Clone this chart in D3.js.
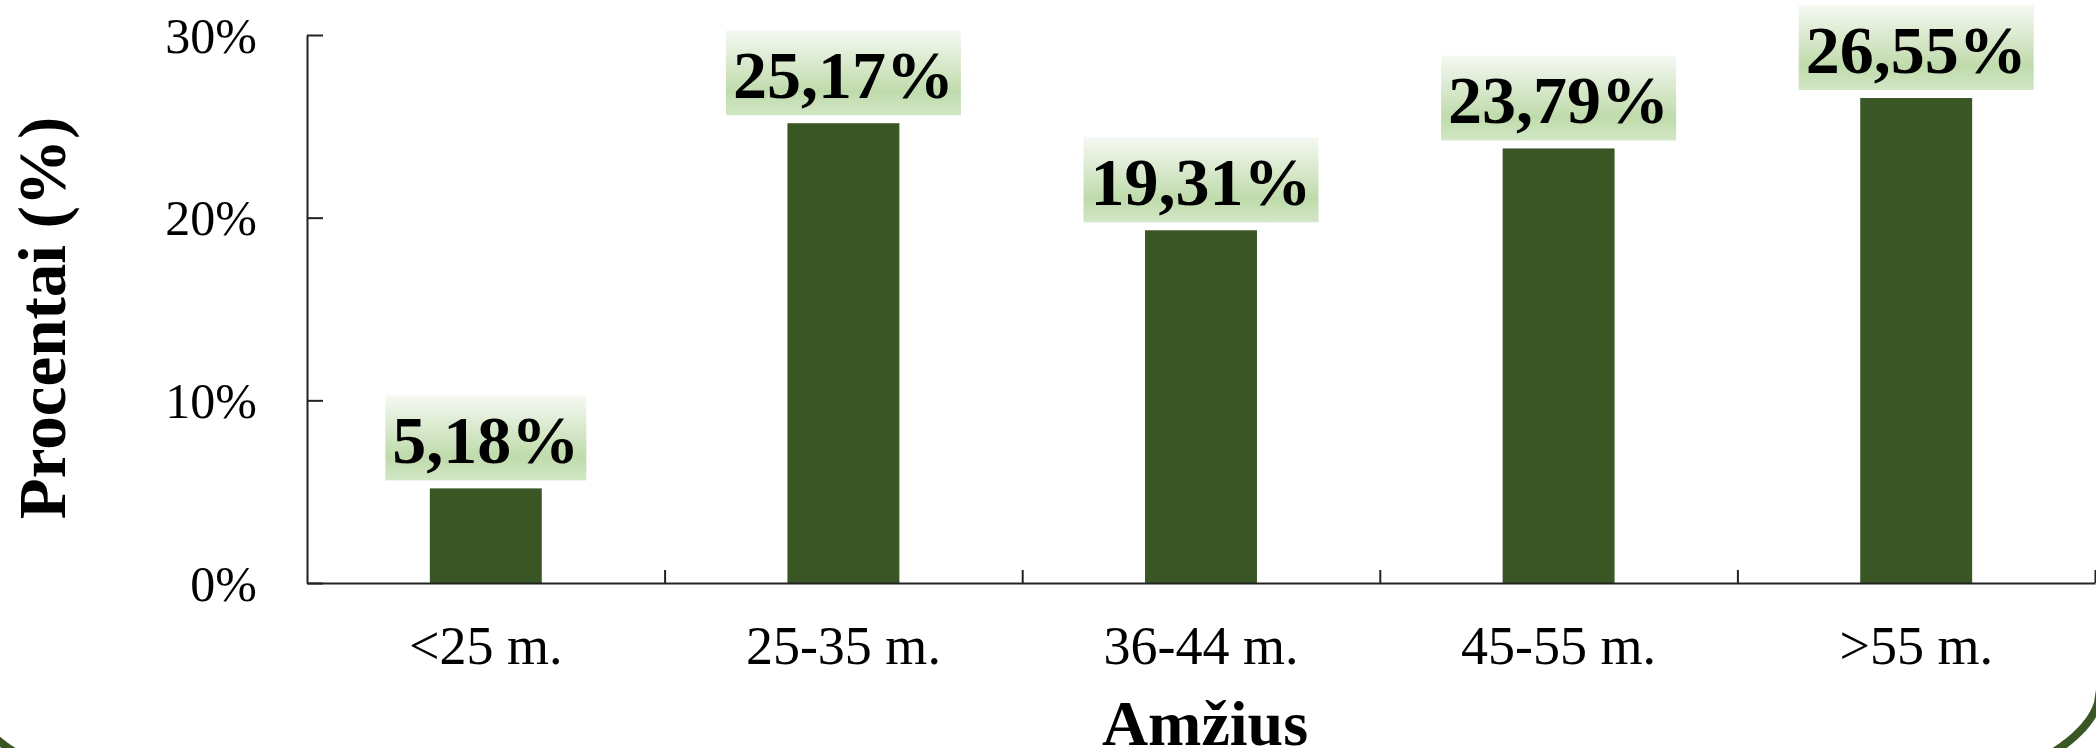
<!DOCTYPE html>
<html>
<head>
<meta charset="utf-8">
<script src="https://cdn.jsdelivr.net/npm/d3@7"></script>
<style>
  html, body { margin: 0; padding: 0; background: #ffffff; }
  svg { display: block; }
</style>
</head>
<body>
<script>
// ---- data ----
const categories = ["<25 m.", "25-35 m.", "36-44 m.", "45-55 m.", ">55 m."];
const values = [5.18, 25.17, 19.31, 23.79, 26.55];
const valueLabels = ["5,18%", "25,17%", "19,31%", "23,79%", "26,55%"];
const yTicks = [0, 10, 20, 30];
const yTickLabels = ["0%", "10%", "20%", "30%"];
const xTitle = "Amžius";
const yTitle = "Procentai (%)";

// ---- layout ----
const W = 2096, H = 748;
const serif = "'Liberation Serif', 'Times New Roman', Times, serif";
const barColor = "#3a5624";

const svg = d3.select("body").append("svg")
  .attr("width", W).attr("height", H)
  .attr("viewBox", `0 0 ${W} ${H}`);

const defs = svg.append("defs");
const grad = defs.append("linearGradient")
  .attr("id", "lblGrad").attr("x1", 0).attr("y1", 0).attr("x2", 0).attr("y2", 1);
grad.append("stop").attr("offset", "0%").attr("stop-color", "#f6f9f3");
grad.append("stop").attr("offset", "72%").attr("stop-color", "#bfdbab");
grad.append("stop").attr("offset", "100%").attr("stop-color", "#d2e7c6");

// decorative slide frame arc (lower half of a wide ellipse), computed as points
const ell = { cx: 1034, cy: 690, rx: 1066, ry: 213 };
const arcPts = d3.range(-1, 1.00001, 0.002).map(u => {
  const px = ell.cx + ell.rx * u;
  const py = ell.cy + ell.ry * Math.sqrt(Math.max(0, 1 - u * u));
  return [px, py];
});
svg.append("path")
  .attr("d", d3.line()(arcPts))
  .attr("fill", "none")
  .attr("stroke", barColor)
  .attr("stroke-width", 8);

const x0 = 307, x1 = 2095, y0 = 583, y1 = 35;

const x = d3.scaleBand().domain(categories).range([x0, x1]).padding(0);
const y = d3.scaleLinear().domain([0, 30]).range([y0, y1]);
const barW = x.bandwidth() * 0.313;

// bars
svg.append("g").selectAll("rect")
  .data(values)
  .join("rect")
  .attr("x", (d, i) => x(categories[i]) + x.bandwidth() / 2 - barW / 2)
  .attr("y", d => y(d))
  .attr("width", barW)
  .attr("height", d => y0 - y(d))
  .attr("fill", barColor);

// y axis
const yAxis = d3.axisLeft(y)
  .tickValues(yTicks)
  .tickFormat((d, i) => yTickLabels[i])
  .tickSizeInner(-16)
  .tickSizeOuter(0)
  .tickPadding(50);
const gy = svg.append("g").attr("transform", `translate(${x0},0)`).call(yAxis);
gy.select(".domain").attr("stroke", "#222").attr("stroke-width", 2);
gy.selectAll(".tick line").attr("stroke", "#222").attr("stroke-width", 2);
gy.selectAll(".tick text")
  .attr("font-family", serif).attr("font-size", 50).attr("fill", "#000")
  .attr("dy", "0.34em");

// x axis (ticks at category boundaries, pointing up)
const xBound = d3.scaleLinear().domain([0, categories.length]).range([x0, x1]);
const gx = svg.append("g").attr("transform", `translate(0,${y0})`);
gx.call(d3.axisBottom(xBound).tickValues(d3.range(1, categories.length + 1))
  .tickFormat("").tickSizeInner(-13).tickSizeOuter(0));
gx.select(".domain").attr("stroke", "#222").attr("stroke-width", 2);
gx.selectAll(".tick line").attr("stroke", "#222").attr("stroke-width", 2);

// x category labels
svg.append("g").selectAll("text")
  .data(categories)
  .join("text")
  .attr("x", d => x(d) + x.bandwidth() / 2)
  .attr("y", 664)
  .attr("text-anchor", "middle")
  .attr("font-family", serif)
  .attr("font-size", 54)
  .attr("fill", "#000")
  .text(d => d);

// value labels with gradient boxes
const lg = svg.append("g");
values.forEach((v, i) => {
  const cx = x(categories[i]) + x.bandwidth() / 2;
  const boxBottom = y(v) - 8;
  const boxH = 85;
  const g = lg.append("g");
  const rect = g.append("rect").attr("fill", "url(#lblGrad)");
  const t = g.append("text")
    .attr("x", cx)
    .attr("y", boxBottom - 17)
    .attr("text-anchor", "middle")
    .attr("font-family", serif)
    .attr("font-weight", "bold")
    .attr("font-size", 68)
    .attr("fill", "#000")
    .text(valueLabels[i]);
  const tw = t.node().getComputedTextLength();
  const bw = tw + 14;
  rect.attr("x", cx - bw / 2).attr("y", boxBottom - boxH)
      .attr("width", bw).attr("height", boxH);
});

// axis titles
svg.append("text")
  .attr("x", 1205).attr("y", 745)
  .attr("text-anchor", "middle")
  .attr("font-family", serif).attr("font-weight", "bold").attr("font-size", 64)
  .attr("fill", "#000")
  .text(xTitle);

svg.append("text")
  .attr("transform", "translate(65,318) rotate(-90)")
  .attr("text-anchor", "middle")
  .attr("font-family", serif).attr("font-weight", "bold").attr("font-size", 67)
  .attr("fill", "#000")
  .text(yTitle);
</script>
</body>
</html>
